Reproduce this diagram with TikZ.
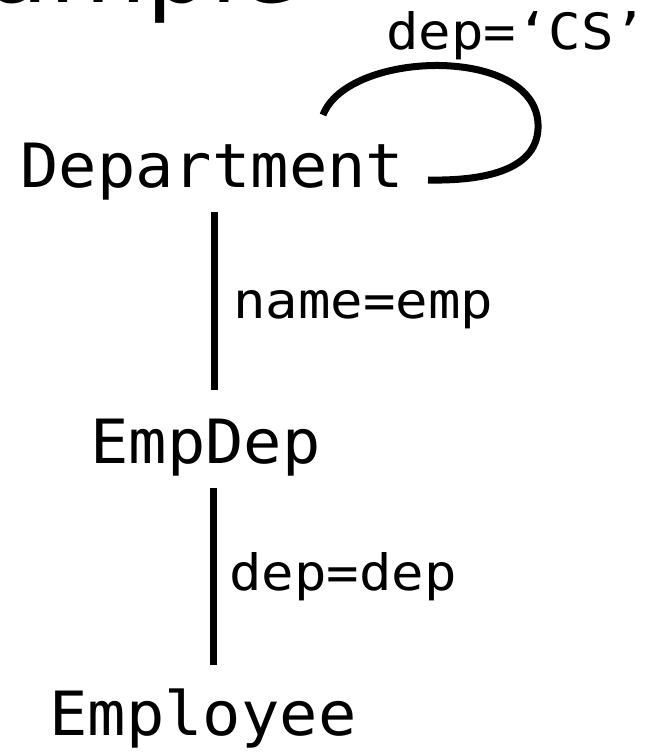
\documentclass[tikz,border=0pt]{standalone}
\usepackage{fontspec}
\newfontfamily\monofont[FakeStretch=1.045]{DejaVu Sans Mono}
\newfontfamily\labelfont[FakeStretch=1.08]{DejaVu Sans Mono}
\newfontfamily\titlefont{DejaVu Sans}
\begin{document}
\begin{tikzpicture}[x=0.5pt,y=-0.5pt,
  big/.style={font=\monofont\fontsize{30.5}{36}\selectfont, inner sep=0pt, anchor=base west},
  small/.style={font=\labelfont\fontsize{25}{30}\selectfont, inner sep=0pt, anchor=base west},
  link/.style={line width=3.5pt},
  loopline/.style={line width=3.5pt}]
\useasboundingbox (0,0) rectangle (650,753);
\clip (0,0) rectangle (650,753);
\node[font=\titlefont\fontsize{50}{60}\selectfont, inner sep=0pt, anchor=base west] (title) at (-135,3) {Example};
\node[big] (dept) at (20,188) {Department};
\node[big] (empdep) at (90,463) {EmpDep};
\node[big] (emp) at (49,735) {Employee};
\coordinate (l1a) at (214,212);
\coordinate (l1b) at (214,390);
\coordinate (l2a) at (213,488);
\coordinate (l2b) at (213,665);
\coordinate (ls) at (323,115);
\coordinate (lr) at (538,124);
\coordinate (le) at (428,180);
\draw[link] (l1a) -- (l1b);
\draw[link] (l2a) -- (l2b);
\draw[loopline] (ls) .. controls (348,50) and (535,45) .. (lr) .. controls (540,172) and (480,181) .. (le);
\node[small] (lab1) at (386,50) {dep=‘CS’};
\node[small] (lab2) at (233,318) {name=emp};
\node[small] (lab3) at (229,590) {dep=dep};
\end{tikzpicture}
\end{document}
